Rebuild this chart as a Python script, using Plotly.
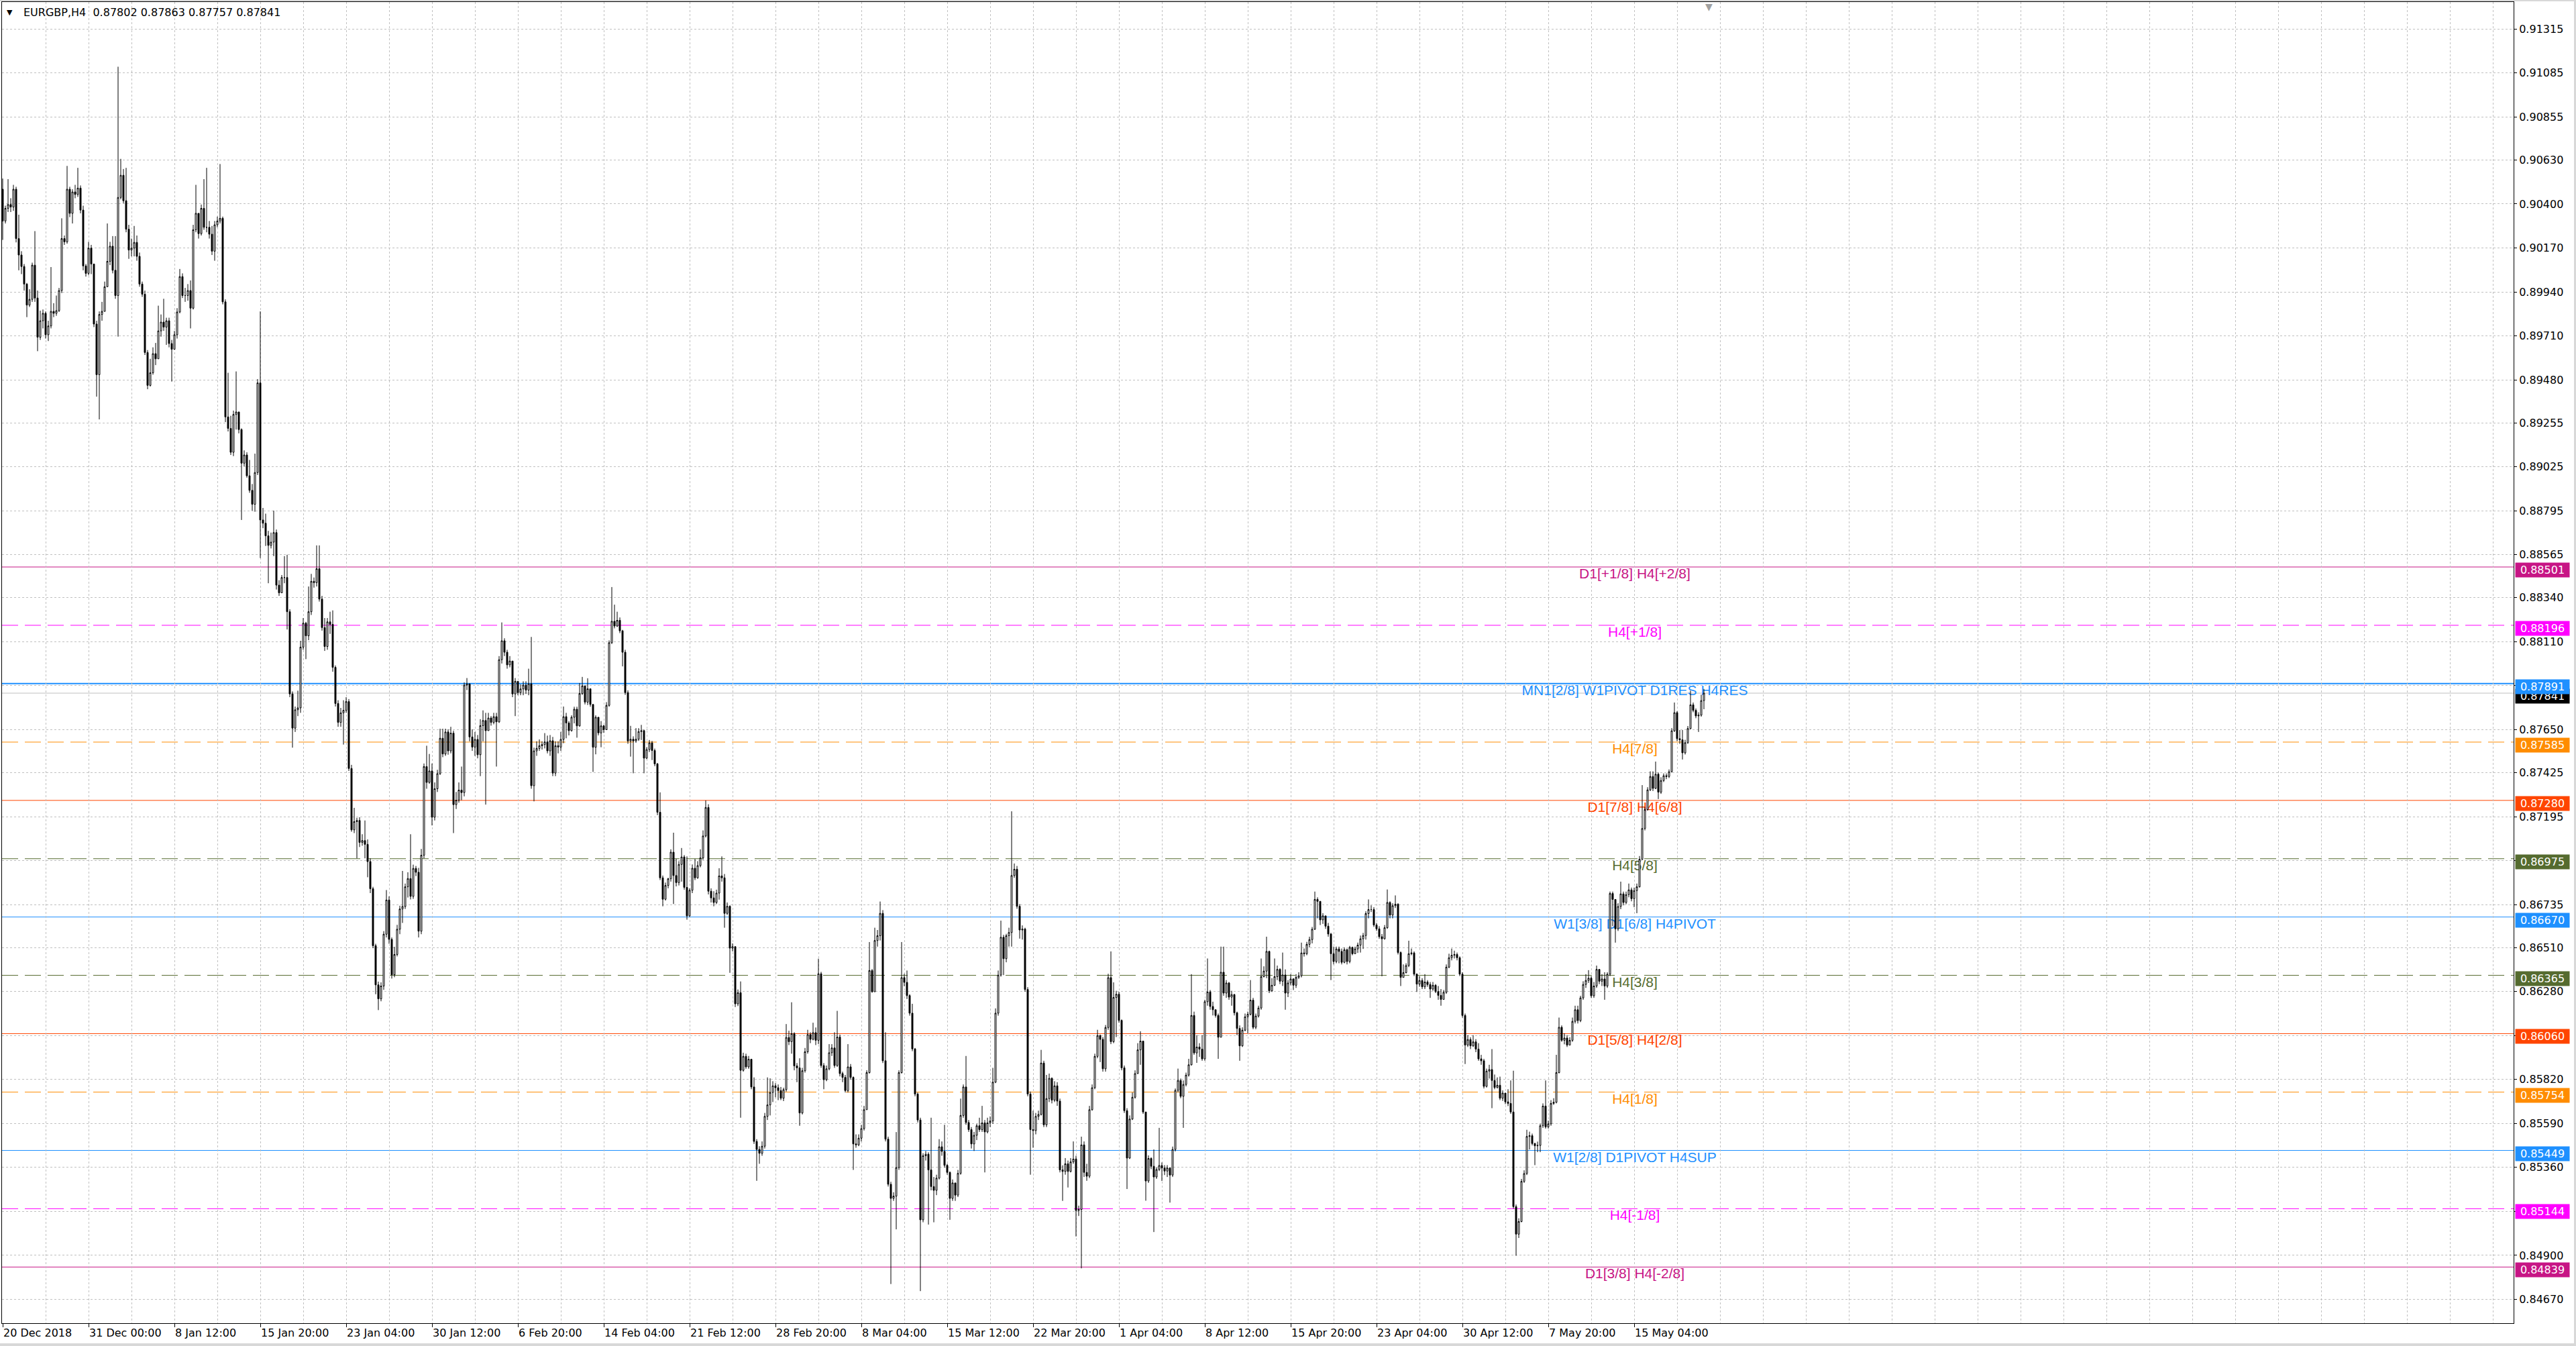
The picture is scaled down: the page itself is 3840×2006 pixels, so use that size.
import plotly.graph_objects as go

# ---------------- data (prices in points, 1 point = 0.00001) ----------------
symbol = "EURGBP,H4"
first_open_pts = 90477

close_pts = [
90311,90377,90397,90384,90477,90219,90133,90073,89981,89871,
89901,90080,89908,89703,89789,89828,89716,89762,89838,89828,
89842,89947,90219,90202,90477,90351,90463,90450,90483,90368,
90076,90037,90169,90086,89772,89507,89822,89838,89967,90100,
90179,90053,89921,90434,90550,90417,90268,90159,90169,90199,
90126,89981,89928,89623,89451,89517,89617,89590,89736,89782,
89756,89789,89670,89640,89716,89835,90020,89921,89921,89947,
89855,90265,90351,90245,90377,90278,90278,90242,90153,90291,
90311,90325,89888,89286,89226,89101,89299,89312,89220,89044,
89087,88978,88902,88829,88995,89464,88747,88730,88664,88614,
88631,88681,88406,88366,88446,88446,88267,87837,87658,87754,
87764,88082,88207,88141,88267,88426,88419,88492,88333,88184,
88085,88214,88201,87976,87787,87688,87738,87751,87797,87447,
87126,87169,87175,87060,87070,87050,86960,86818,86520,86315,
86242,86309,86580,86759,86553,86368,86474,86606,86712,86725,
86828,86871,86778,86924,86904,86596,86993,87457,87374,87434,
87192,87341,87420,87605,87523,87638,87539,87632,87258,87281,
87334,87321,87883,87890,87612,87559,87599,87519,87671,87698,
87645,87711,87688,87718,87691,88016,88115,88055,87989,88009,
87837,87903,87844,87863,87883,87857,87890,87357,87539,87552,
87566,87572,87586,87539,87592,87423,87566,87559,87599,87718,
87685,87645,87715,87757,87670,87839,87879,87794,87864,87782,
87558,87715,87633,87670,87650,87777,88105,88217,88192,88222,
88167,88055,87844,87591,87600,87591,87600,87640,87645,87501,
87546,87581,87541,87471,87218,86875,86763,86835,86870,87009,
86887,86850,86945,86984,86825,86676,86810,86925,86875,86939,
86979,87094,87243,86805,86770,86746,86795,86885,86875,86689,
86726,86507,86515,86216,86274,85868,85941,85886,85926,85781,
85496,85454,85434,85471,85627,85687,85752,85787,85777,85762,
85722,85767,86040,86018,86060,85891,85881,85645,85866,85965,
86055,86030,86065,86025,86373,85893,85819,85876,85960,85985,
85893,86042,85851,85831,85762,85886,85831,85483,85478,85513,
85563,85662,85856,86390,86279,86547,86572,86689,85918,85508,
85272,85198,85210,85359,85856,86353,86328,86259,86167,85980,
85744,85608,85086,85421,85429,85347,85260,85240,85304,85468,
85444,85371,85334,85198,85279,85215,85329,85632,85781,85595,
85558,85483,85528,85578,85558,85593,85546,85593,85603,85806,
86167,86366,86564,86452,86572,86589,86887,86920,86726,86602,
86607,86291,85744,85558,85553,85627,85637,85906,85583,85720,
85826,85712,85787,85707,85347,85339,85379,85339,85389,85404,
85135,85140,85478,85334,85314,85662,85777,85941,86050,86030,
85876,86092,86353,86018,86249,86266,86129,85881,85657,85409,
85613,85727,85851,85975,86021,85650,85289,85407,85366,85310,
85349,85370,85357,85341,85357,85320,85454,85763,85815,85732,
85794,85843,85897,86155,85959,85990,85979,85928,86227,86278,
86202,86185,86155,86041,86381,86272,86325,86251,86264,86169,
86087,85996,86078,86148,86161,86235,86093,86152,86194,86358,
86387,86490,86284,86313,86358,86396,86334,86367,86272,86325,
86346,86313,86354,86363,86482,86478,86527,86552,86606,86762,
86752,86655,86676,86622,86581,86478,86437,86503,86490,86433,
86499,86437,86511,86478,86503,86523,86556,86573,86688,86709,
86709,86628,86608,86567,86556,86614,86746,86680,86729,86737,
86484,86354,86379,86416,86478,86482,86371,86319,86338,86305,
86330,86317,86293,86313,86280,86260,86239,86276,86408,86457,
86470,86474,86457,86371,86155,86000,86029,85996,86017,85979,
85928,85918,85784,85864,85872,85815,85778,85790,85722,85749,
85703,85695,85650,85155,85011,85077,85287,85328,85522,85526,
85485,85473,85475,85578,85681,85572,85588,85695,85701,85856,
86093,86025,86037,86000,86025,86124,86185,86128,86247,86317,
86338,86350,86258,86309,86396,86334,86346,86309,86371,86793,
86762,86608,86725,86791,86746,86787,86812,86766,86808,86828,
86972,87133,87232,87335,87405,87343,87417,87323,87384,87409,
87405,87430,87644,87739,87603,87597,87529,87582,87656,87780,
87751,87722,87726,87802,87841,
]

high_pts = [
90533,90391,90530,90430,90500,90490,90344,90153,90086,89987,
89954,90093,90258,89947,89842,89848,89838,89789,90070,89881,
89921,89961,90325,90235,90599,90490,90477,90500,90589,90497,
90391,90086,90202,90186,90067,89789,89838,89888,89994,90298,
90202,90232,90232,91118,90636,90583,90589,90291,90219,90285,
90235,90146,89994,89947,89636,89590,89650,89673,89868,89822,
89904,89805,89805,89689,89736,89855,90060,90037,89961,89981,
90000,90291,90500,90334,90397,90530,90589,90311,90285,90311,
90334,90609,90334,89901,89517,89292,89319,89524,89266,89226,
89111,89101,89061,88935,89094,89484,89838,88810,88780,88690,
88681,88796,88697,88432,88459,88558,88565,88280,87850,87771,
87854,88115,88234,88214,88399,88465,88446,88614,88614,88350,
88234,88234,88267,88274,87986,87804,87764,87804,87820,87810,
87466,87241,87189,87192,87103,87175,87076,86977,86828,86530,
86332,86328,86596,86811,86778,86563,86514,86629,86729,86911,
86845,86904,87103,86944,86937,86927,87026,87473,87566,87523,
87473,87374,87440,87655,87655,87655,87652,87665,87645,87324,
87374,87457,87897,87920,87854,87652,87638,87622,87705,87751,
87738,87738,87721,87738,87738,88035,88211,88128,88068,88035,
88002,87920,87903,87887,87903,87903,87969,88135,87556,87589,
87599,87589,87632,87619,87622,87612,87589,87589,87638,87771,
87738,87695,87725,87770,87770,87894,87926,87881,87919,87864,
87774,87725,87700,87695,87675,87794,88117,88396,88304,88267,
88237,88172,88068,87856,87670,87615,87658,87658,87675,87650,
87558,87596,87591,87551,87476,87322,86887,86850,86875,87024,
87111,86974,86962,87031,86994,86987,86820,86945,86974,86962,
87024,87123,87280,87260,86820,86805,86813,86925,86987,86895,
86746,86731,86532,86515,86291,86333,85960,85955,85943,85893,
85831,85508,85471,85496,85645,85831,85826,85811,85801,85794,
85781,85777,86110,86075,86224,86067,85906,85931,85881,85985,
86080,86067,86117,86092,86452,86383,85906,85893,86005,86005,
86067,86179,86055,85861,85844,86005,85901,85836,85533,85533,
85583,85682,85868,86539,86398,86614,86602,86751,86706,86067,
85521,85285,85230,85545,85868,86539,86373,86390,86266,86216,
85985,85752,85620,85434,85446,85439,85620,85310,85322,85508,
85496,85583,85379,85339,85297,85235,85347,85720,85794,85943,
85608,85571,85546,85588,85620,85682,85608,85620,85627,85881,
86192,86390,86651,86577,86582,86614,87223,86950,86937,86738,
86626,86614,86303,85757,85657,85645,85657,85975,85918,85844,
85851,85831,85811,85806,85720,85371,85409,85396,85409,85496,
85421,85160,85521,85496,85379,85682,85794,85955,86080,86055,
86042,86105,86373,86490,86328,86284,86279,86134,85893,85670,
85632,85752,85868,86010,86072,86010,85633,85423,85413,85454,
85361,85567,85386,85372,85372,85357,85469,85773,85877,85825,
85815,85856,85928,86371,86175,86052,86010,86052,86237,86453,
86288,86227,86185,86165,86515,86515,86340,86330,86284,86268,
86175,86103,86093,86165,86175,86340,86247,86165,86206,86453,
86412,86567,86494,86350,86453,86416,86402,86484,86396,86340,
86371,86350,86371,86381,86536,86505,86540,86567,86618,86803,
86773,86680,86690,86676,86639,86587,86515,86515,86515,86505,
86511,86505,86519,86515,86515,86536,86573,86587,86700,86762,
86731,86721,86639,86622,86581,86628,86814,86752,86742,86783,
86742,86490,86422,86428,86546,86505,86490,86375,86361,86350,
86371,86340,86330,86330,86319,86309,86293,86288,86422,86478,
86505,86494,86484,86464,86381,86165,86052,86041,86052,86031,
86010,85949,85928,85877,85897,85979,85846,85831,85835,85763,
85736,85769,85815,85866,85166,85094,85300,85345,85557,85547,
85537,85489,85495,85588,85695,85815,85605,85712,85722,85949,
86144,86103,86062,86052,86041,86144,86206,86206,86258,86334,
86371,86392,86361,86330,86416,86392,86371,86381,86381,86803,
86803,86752,86742,86855,86803,86803,86845,86824,86824,86845,
86989,87360,87246,87349,87432,87432,87483,87426,87401,87421,
87421,87442,87658,87792,87747,87648,87648,87597,87669,87854,
87792,87761,87741,87833,87863,
]

low_pts = [
90212,90298,90358,90358,90364,90199,90053,90033,89947,89808,
89861,89888,89888,89630,89689,89749,89696,89683,89749,89808,
89815,89835,89934,90186,90192,90331,90298,90430,90437,90351,
90053,90020,90027,90033,89756,89392,89273,89789,89871,89981,
90080,90037,89904,89706,90424,90404,90252,90113,90126,90126,
90103,89967,89914,89610,89431,89445,89507,89557,89607,89706,
89736,89663,89650,89471,89650,89696,89828,89908,89888,89894,
89749,89848,90252,90219,90235,90265,90252,90219,90133,90103,
90278,90298,89875,89259,89210,89087,89081,89220,89200,88747,
89028,88968,88889,88796,88790,88982,88548,88704,88611,88416,
88598,88558,88383,88350,88373,88416,88174,87820,87556,87638,
87721,87738,88068,88019,88118,88250,88393,88399,88320,88168,
88062,88068,88151,87953,87771,87665,87665,87572,87738,87434,
87116,87109,86977,87036,87043,86977,86878,86795,86507,86266,
86183,86229,86289,86563,86530,86348,86355,86464,86580,86639,
86712,86772,86762,86765,86884,86563,86580,86977,87341,87367,
87149,87175,87324,87413,87506,87513,87519,87526,87109,87235,
87268,87281,87301,87857,87589,87539,87513,87500,87407,87589,
87258,87665,87671,87678,87457,87685,87996,88035,87969,87976,
87820,87721,87830,87830,87830,87837,87830,87341,87275,87513,
87539,87546,87552,87526,87513,87407,87407,87526,87539,87579,
87605,87620,87640,87683,87608,87665,87832,87782,87779,87770,
87429,87521,87620,87558,87633,87658,87770,88098,88180,88187,
88155,87981,87832,87576,87509,87422,87581,87591,87596,87422,
87496,87533,87491,87459,87203,86863,86726,86756,86820,86855,
86738,86830,86835,86855,86813,86656,86671,86795,86863,86870,
86930,86969,87086,86788,86746,86726,86738,86761,86855,86614,
86681,86378,86490,86199,86204,85620,85861,85876,85876,85769,
85483,85290,85379,85421,85459,85608,85632,85702,85727,85712,
85712,85707,85757,86000,85955,85868,85806,85578,85637,85856,
85955,86010,86025,86000,86005,85881,85769,85811,85868,85943,
85881,85886,85836,85806,85752,85752,85819,85347,85463,85471,
85496,85553,85662,85851,86274,86373,86515,86547,85906,85496,
85260,84750,85185,85036,85347,85851,86308,86241,86154,85968,
85732,85595,84713,85073,85396,85061,85240,85073,85215,85297,
85421,85359,85322,85086,85185,85185,85205,85322,85620,85583,
85546,85459,85446,85503,85546,85546,85334,85538,85571,85588,
85801,86154,86358,86366,86433,86515,86515,86875,86713,86557,
86552,86279,85732,85322,85463,85533,85608,85632,85571,85571,
85702,85695,85702,85682,85334,85185,85322,85255,85334,85379,
84999,85106,84832,85310,85290,85304,85657,85769,85931,85911,
85861,85861,86080,86005,86010,86042,86117,85868,85645,85247,
85404,85608,85720,85850,85897,85640,85186,85279,85351,85022,
85300,85341,85289,85320,85310,85176,85310,85444,85753,85722,
85567,85784,85835,85893,85949,85907,85938,85918,85918,86206,
86185,86155,86144,85928,86041,86258,86247,86237,86206,86155,
86052,85918,85990,86072,86062,86155,86083,86083,86144,86185,
86354,86350,86272,86278,86309,86340,86319,86309,86185,86251,
86313,86288,86299,86346,86354,86463,86470,86511,86532,86602,
86663,86628,86634,86608,86567,86340,86422,86428,86428,86422,
86428,86422,86428,86470,86478,86482,86484,86503,86552,86663,
86696,86618,86597,86556,86360,86552,86608,86663,86663,86717,
86474,86309,86367,86375,86408,86470,86361,86278,86305,86293,
86293,86305,86247,86284,86272,86237,86206,86258,86268,86402,
86443,86453,86443,86361,86144,85901,85990,85979,85990,85963,
85918,85897,85773,85778,85825,85670,85769,85773,85712,85708,
85691,85681,85640,85145,84898,84991,85073,85279,85320,85454,
85475,85372,85440,85440,85567,85563,85563,85578,85687,85695,
85852,86017,86004,85990,86004,86017,86113,86113,86120,86237,
86299,86325,86247,86247,86299,86319,86309,86237,86299,86361,
86622,86536,86597,86711,86731,86737,86773,86752,86721,86690,
86824,86968,87123,87226,87329,87329,87339,87287,87314,87376,
87391,87397,87426,87638,87590,87576,87494,87520,87576,87652,
87741,87710,87638,87718,87757,
]

POINT = 0.00001

# time-axis labels, one every 32 H4 bars starting at bar 0
time_labels = ["20 Dec 2018", "31 Dec 00:00", "8 Jan 12:00", "15 Jan 20:00", "23 Jan 04:00",
               "30 Jan 12:00", "6 Feb 20:00", "14 Feb 04:00", "21 Feb 12:00", "28 Feb 20:00",
               "8 Mar 04:00", "15 Mar 12:00", "22 Mar 20:00", "1 Apr 04:00", "8 Apr 12:00",
               "15 Apr 20:00", "23 Apr 04:00", "30 Apr 12:00", "7 May 20:00", "15 May 04:00"]
bars_per_label = 32
grid_every = 16
total_slots = 936  # visible bar slots incl. chart shift space

# price grid levels on the right scale (labels hidden behind level boxes are blank)
price_grid = [0.91315, 0.91085, 0.90855, 0.90630, 0.90400, 0.90170, 0.89940, 0.89710, 0.89480,
              0.89255, 0.89025, 0.88795, 0.88565, 0.88340, 0.88110, 0.87880, 0.87650, 0.87425,
              0.87195, 0.86965, 0.86735, 0.86510, 0.86280, 0.86050, 0.85820, 0.85590, 0.85360,
              0.85130, 0.84900, 0.84670]
hidden_grid_labels = [0.87880, 0.86965, 0.86050, 0.85130]

# Murrey-math style levels
level_prices = [0.88501, 0.88196, 0.87891, 0.87585, 0.87280, 0.86975, 0.86670,
                0.86365, 0.86060, 0.85754, 0.85449, 0.85144, 0.84839]
level_names = ["D1[+1/8] H4[+2/8]", "H4[+1/8]", "MN1[2/8] W1PIVOT D1RES H4RES", "H4[7/8]",
               "D1[7/8] H4[6/8]", "H4[5/8]", "W1[3/8] D1[6/8] H4PIVOT", "H4[3/8]",
               "D1[5/8] H4[2/8]", "H4[1/8]", "W1[2/8] D1PIVOT H4SUP", "H4[-1/8]", "D1[3/8] H4[-2/8]"]
level_colors = ["#C71585", "#FF00FF", "#1E90FF", "#FF8C00", "#FF4500", "#556B2F", "#1E90FF",
                "#556B2F", "#FF4500", "#FF8C00", "#1E90FF", "#FF00FF", "#C71585"]
level_dashed = [False, True, False, True, False, True, False, True, False, True, False, True, False]
level_widths = [1, 1, 2, 1, 1, 1, 1, 1, 1, 1, 1, 1, 1]
label_bar = 608.25

# ---------------- geometry ----------------
W, H = 3840, 2006
M_L, M_R, M_T, M_B = 3, 93, 3, 34
y_range = [0.845452, 0.914565]
plot_h = H - M_T - M_B
px_per_price = plot_h / (y_range[1] - y_range[0])
label_drop = 7.5 / px_per_price  # level text sits just under its line

# ---------------- build ----------------
n = min(len(close_pts), len(high_pts), len(low_pts))
closes = [v * POINT for v in close_pts[:n]]
opens = [first_open_pts * POINT] + closes[:-1]
highs = [max(high_pts[i] * POINT, opens[i], closes[i]) for i in range(n)]
lows = [min(low_pts[i] * POINT, opens[i], closes[i]) for i in range(n)]
xs = list(range(n))

fig = go.Figure()
fig.add_trace(go.Candlestick(
    x=xs, open=opens, high=highs, low=lows, close=closes,
    increasing=dict(line=dict(color="black", width=1), fillcolor="white"),
    decreasing=dict(line=dict(color="black", width=1), fillcolor="black"),
    whiskerwidth=0, showlegend=False, hoverinfo="skip",
))

shapes = []
# current price line
shapes.append(dict(type="line", xref="paper", x0=0, x1=1, yref="y", y0=closes[-1], y1=closes[-1],
                   line=dict(color="#C0C0C0", width=1), layer="between"))
for p, name, col, dsh, w in zip(level_prices, level_names, level_colors, level_dashed, level_widths):
    shapes.append(dict(type="line", xref="paper", x0=0, x1=1, yref="y", y0=p, y1=p,
                       line=dict(color=col, width=w, dash="24px,10px" if dsh else "solid"),
                       layer="between"))
    yl = p - label_drop
    shapes.append(dict(type="line", xref="x", x0=label_bar - 150, x1=label_bar + 150, yref="y", y0=yl, y1=yl,
                       line=dict(color="rgba(0,0,0,0)", width=1), layer="between",
                       label=dict(text=name, textposition="middle", yanchor="middle", padding=0,
                                  font=dict(family="Liberation Sans", size=21, color=col))))

# window frame (light grey border of the terminal window)
frame_col = "#D8D8D8"
px_x = lambda px: (px - M_L) / (W - M_L - M_R)
px_y = lambda py: (H - M_B - py) / plot_h
shapes.append(dict(type="line", xref="paper", yref="paper", x0=px_x(W - 1.5), x1=px_x(W - 1.5),
                   y0=px_y(0), y1=px_y(H), line=dict(color=frame_col, width=3), layer="above"))
shapes.append(dict(type="line", xref="paper", yref="paper", x0=px_x(0), x1=px_x(W),
                   y0=px_y(H - 2), y1=px_y(H - 2), line=dict(color=frame_col, width=4), layer="above"))
shapes.append(dict(type="line", xref="paper", yref="paper", x0=px_x(0), x1=px_x(W),
                   y0=px_y(1), y1=px_y(1), line=dict(color=frame_col, width=2), layer="above"))

annotations = []
# header
annotations.append(dict(xref="paper", yref="paper", x=0, y=1, xanchor="left", yanchor="middle",
                        xshift=5, yshift=-15, text="▼", showarrow=False,
                        font=dict(family="DejaVu Sans", size=11, color="black")))
header = "%s\u00a0\u00a0%.5f %.5f %.5f %.5f" % (symbol, opens[-1], highs[-1], lows[-1], closes[-1])
annotations.append(dict(xref="paper", yref="paper", x=0, y=1, xanchor="left", yanchor="middle",
                        xshift=30, yshift=-15, text=header, showarrow=False,
                        font=dict(family="DejaVu Sans", size=16, color="black")))
# chart shift marker
annotations.append(dict(xref="x", yref="paper", x=n + 0.75, y=1, xanchor="center", yanchor="top",
                        yshift=3, text="▼", showarrow=False,
                        font=dict(family="DejaVu Sans", size=14, color="#A0A0A0")))
# right-side price boxes: current price (black) first, then the levels
box_prices = [closes[-1]] + level_prices
box_colors = ["#000000"] + level_colors
for p, col in zip(box_prices, box_colors):
    annotations.append(dict(xref="paper", yref="y", x=1, y=p, xanchor="left", yanchor="top",
                            xshift=2, yshift=7, text="%.5f" % p, showarrow=False,
                            bgcolor=col, borderpad=2, width=76, height=17, align="center",
                            font=dict(family="DejaVu Sans", size=16, color="white")))

tick_x = [i * bars_per_label for i in range(len(time_labels))]
ytext = ["" if any(abs(v - h) < 1e-9 for h in hidden_grid_labels) else "%.5f" % v for v in price_grid]

fig.update_layout(
    width=W, height=H,
    margin=dict(l=M_L, r=M_R, t=M_T, b=M_B, pad=0),
    paper_bgcolor="white", plot_bgcolor="white",
    font=dict(family="DejaVu Sans", size=16, color="black"),
    showlegend=False,
    shapes=shapes, annotations=annotations,
    xaxis=dict(
        range=[-0.25, total_slots - 0.25], tickmode="array", tickvals=tick_x, ticktext=time_labels,
        ticks="outside", ticklen=5, tickcolor="black", ticklabelposition="outside right",
        tickfont=dict(family="DejaVu Sans", size=16, color="black"),
        showgrid=True, gridcolor="#C0C0C0", griddash="3px,3px", gridwidth=1,
        minor=dict(tickmode="array", tickvals=list(range(0, total_slots, grid_every)),
                   showgrid=True, gridcolor="#C0C0C0", griddash="3px,3px", gridwidth=1, ticks=""),
        showline=True, linecolor="black", linewidth=1, mirror=True, zeroline=False,
        rangeslider=dict(visible=False), fixedrange=True,
    ),
    yaxis=dict(
        side="right", range=y_range, tickmode="array", tickvals=price_grid, ticktext=ytext,
        ticks="outside", ticklen=4, tickcolor="black",
        tickfont=dict(family="DejaVu Sans", size=16, color="black"),
        showgrid=True, gridcolor="#C0C0C0", griddash="3px,3px", gridwidth=1,
        showline=True, linecolor="black", linewidth=1, mirror=True, zeroline=False, fixedrange=True,
    ),
)

fig.write_html("out.html", config={"displayModeBar": False, "staticPlot": True},
               post_script="document.body.style.margin='0';document.body.style.overflow='hidden';")
